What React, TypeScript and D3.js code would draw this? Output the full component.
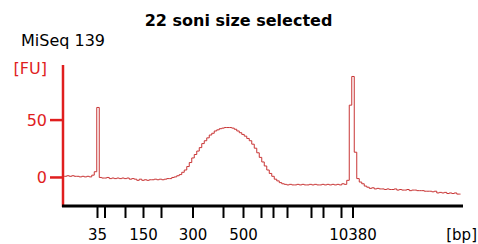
import { useRef, useEffect } from "react";
import * as d3 from "d3";

// migration time (s) of first sample and sampling step
const startTime = 40;
const timeStep = 0.5;

// fluorescence trace [FU]
const fluorescence: number[] = [
    1, 1, 1.5, 1, 1.5, 1, 1, 0.5, 1, 0.5,
    1, 0.5, 2, 5, 61, 0, -0.5, -0.5, 0, -1,
    -0.5, -1, -0.5, -1, -0.5, -1, -0.5, -1.5, -1, -1.5,
    -2.5, -1.5, -2.5, -2, -2.5, -2, -2, -1.5, -2, -1.5,
    -2, -1.5, -1, -1, 0, 0.5, 1.5, 2.5, 4.5, 6.5,
    9.5, 13, 17, 20, 23, 26, 29.5, 32, 34.5, 37,
    38.5, 40.5, 41.5, 42.5, 43, 43.5, 43.5, 43.5, 43, 42,
    40.5, 39, 37.5, 36, 34, 32, 29, 25.5, 21.5, 17.5,
    13.5, 10, 6.5, 3.5, 1, -1.5, -3, -4.5, -5.5, -6,
    -6.5, -6, -6.5, -6.5, -6, -6.5, -6, -6.5, -6.5, -6,
    -6.5, -6, -6.5, -6.5, -6, -6.5, -6, -6.5, -6, -6.5,
    -6, -6.5, -5.5, -6, -2.5, 63, 88, 22, -1, -4,
    -5.5, -7.5, -8.5, -9.5, -9, -10, -9.5, -10, -10, -10.5,
    -10, -10.5, -10.5, -10, -11, -10.5, -11, -11, -10.5, -11.5,
    -11, -11, -11.5, -11.5, -11.5, -12, -12, -12, -12.5, -12,
    -13.5, -13, -13.5, -13, -14, -13.5, -14, -13.5, -14.5, -14.5,
];

// ladder fragments [bp] and their migration times (s)
const ladderSizes = [35, 50, 100, 150, 200, 300, 400, 500, 600, 700, 1000, 2000, 3000, 7000, 10380];
const ladderTimes = [46.9, 48.4, 52.5, 56.1, 59.7, 66.0, 72.1, 76.1, 79.7, 82.1, 84.9, 89.7, 92.1, 95.7, 98.0];
const labelledSizes = [35, 150, 300, 500, 10380];

const yTicks = [0, 50];

export default function App() {
    const svgRef = useRef<SVGSVGElement | null>(null);
    const width = 478;
    const height = 244;

    useEffect(() => {
        if (!svgRef.current) return;
        const svg = d3.select(svgRef.current);
        svg.selectAll("*").remove();

        const font = "DejaVu Sans, Verdana, sans-serif";
        const red = "#e01e1e";
        const margin = { top: 65, right: 15, bottom: 38, left: 63 };

        const x = d3
            .scaleLinear()
            .domain([40, 120])
            .range([margin.left, width - margin.right]);

        const y = d3
            .scaleLinear()
            .domain([-24, 98])
            .range([height - margin.bottom - 1, margin.top]);

        // title
        svg.append("text")
            .attr("x", 238.5)
            .attr("y", 26)
            .attr("text-anchor", "middle")
            .attr("font-family", font)
            .attr("font-weight", "bold")
            .attr("font-size", 16)
            .text("22 soni size selected");

        svg.append("text")
            .attr("x", 21)
            .attr("y", 46)
            .attr("font-family", font)
            .attr("font-size", 16)
            .text("MiSeq 139");

        // trace
        const line = d3
            .line<number>()
            .x((_d, i) => x(startTime + i * timeStep))
            .y(d => y(d))
            .curve(d3.curveStep);

        svg.append("path")
            .datum(fluorescence)
            .attr("d", line)
            .attr("fill", "none")
            .attr("stroke", "#c83434")
            .attr("stroke-width", 1);

        // Y axis
        const yAxis = svg.append("g").attr("color", red);
        yAxis.append("line")
            .attr("x1", margin.left)
            .attr("x2", margin.left)
            .attr("y1", margin.top)
            .attr("y2", height - margin.bottom + 1)
            .attr("stroke", red)
            .attr("stroke-width", 2.5);
        yAxis.selectAll(".tick")
            .data(yTicks)
            .enter()
            .append("line")
            .attr("x1", margin.left - 13)
            .attr("x2", margin.left)
            .attr("y1", d => y(d))
            .attr("y2", d => y(d))
            .attr("stroke", red)
            .attr("stroke-width", 2.5);
        yAxis.selectAll(".lbl")
            .data(yTicks)
            .enter()
            .append("text")
            .attr("x", 47)
            .attr("y", d => y(d) + 6)
            .attr("text-anchor", "end")
            .attr("font-family", font)
            .attr("font-size", 16)
            .attr("fill", red)
            .text(d => d);
        yAxis.append("text")
            .attr("x", 47)
            .attr("y", 74)
            .attr("text-anchor", "end")
            .attr("font-family", font)
            .attr("font-size", 16)
            .attr("fill", red)
            .text("[FU]");

        // X axis
        const axisY = height - margin.bottom;
        const xAxis = svg.append("g");
        xAxis.append("line")
            .attr("x1", margin.left - 1)
            .attr("x2", width - margin.right)
            .attr("y1", axisY)
            .attr("y2", axisY)
            .attr("stroke", "#000")
            .attr("stroke-width", 3);
        xAxis.selectAll(".tick")
            .data(ladderTimes)
            .enter()
            .append("line")
            .attr("x1", d => x(d))
            .attr("x2", d => x(d))
            .attr("y1", axisY)
            .attr("y2", axisY + 12)
            .attr("stroke", "#000")
            .attr("stroke-width", 2);
        xAxis.selectAll(".lbl")
            .data(ladderSizes.filter(s => labelledSizes.includes(s)))
            .enter()
            .append("text")
            .attr("x", d => x(ladderTimes[ladderSizes.indexOf(d)]))
            .attr("y", 240)
            .attr("text-anchor", "middle")
            .attr("font-family", font)
            .attr("font-size", 15)
            .text(d => d);
        xAxis.append("text")
            .attr("x", 477)
            .attr("y", 240)
            .attr("text-anchor", "end")
            .attr("font-family", font)
            .attr("font-size", 15)
            .text("[bp]");
    }, []);

    return (
        <svg
            ref={svgRef}
            width={width}
            height={height}
            style={{ position: "absolute", left: 0, top: 0, background: "#fff" }}
        />
    );
}
